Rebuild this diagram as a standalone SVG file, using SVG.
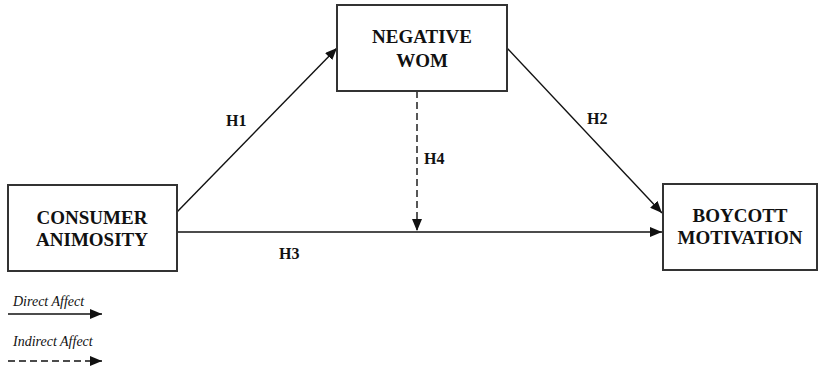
<svg xmlns="http://www.w3.org/2000/svg" width="821" height="368" viewBox="0 0 821 368">
<style>
.box{fill:#fff;stroke:#333;stroke-width:2}
text{font-family:'Liberation Serif','DejaVu Serif',serif}
.lbl{font-weight:bold;font-size:19px;fill:#111;text-anchor:middle}
.h{font-weight:bold;font-size:16px;fill:#111}
.leg{font-style:italic;font-size:14px;fill:#111}
.ln{stroke:#111;stroke-width:1.4;fill:none}
.dash{stroke-dasharray:7,4}
</style>
<defs>
<marker id="ah" viewBox="0 0 12 10" refX="12" refY="5" markerWidth="12" markerHeight="10" markerUnits="userSpaceOnUse" orient="auto">
<path d="M0,0 L12,5 L0,10 z" fill="#111"/>
</marker>
</defs>
<rect width="821" height="368" fill="#fff"/>
<g id="connectors">
<line class="ln" x1="177" y1="212" x2="337" y2="48" marker-end="url(#ah)"/>
<line class="ln" x1="507" y1="48" x2="662" y2="213" marker-end="url(#ah)"/>
<line class="ln" x1="177" y1="232" x2="662" y2="232" marker-end="url(#ah)"/>
<line class="ln dash" x1="417" y1="91" x2="417" y2="231" marker-end="url(#ah)"/>
<text class="h" x="226" y="126" font-family="Liberation Serif, serif">H1</text>
<text class="h" x="587" y="124" font-family="Liberation Serif, serif">H2</text>
<text class="h" x="279" y="259" font-family="Liberation Serif, serif">H3</text>
<text class="h" x="424" y="164" font-family="Liberation Serif, serif">H4</text>
</g>
<g id="node-negative-wom">
<rect class="box" x="337" y="5" width="170" height="86"/>
<text class="lbl" x="422" y="43">NEGATIVE</text>
<text class="lbl" x="422" y="67">WOM</text>
</g>
<g id="node-consumer-animosity">
<rect class="box" x="8" y="185" width="169" height="86"/>
<text class="lbl" x="92" y="224">CONSUMER</text>
<text class="lbl" x="92" y="246">ANIMOSITY</text>
</g>
<g id="node-boycott-motivation">
<rect class="box" x="663" y="184" width="154" height="86"/>
<text class="lbl" x="740" y="222">BOYCOTT</text>
<text class="lbl" x="740" y="244">MOTIVATION</text>
</g>
<g id="legend">
<text class="leg" x="13" y="306">Direct Affect</text>
<line class="ln" x1="8" y1="314" x2="102" y2="314" marker-end="url(#ah)"/>
<text class="leg" x="13" y="346">Indirect Affect</text>
<line class="ln dash" x1="8" y1="361" x2="102" y2="361" marker-end="url(#ah)"/>
</g>
</svg>
